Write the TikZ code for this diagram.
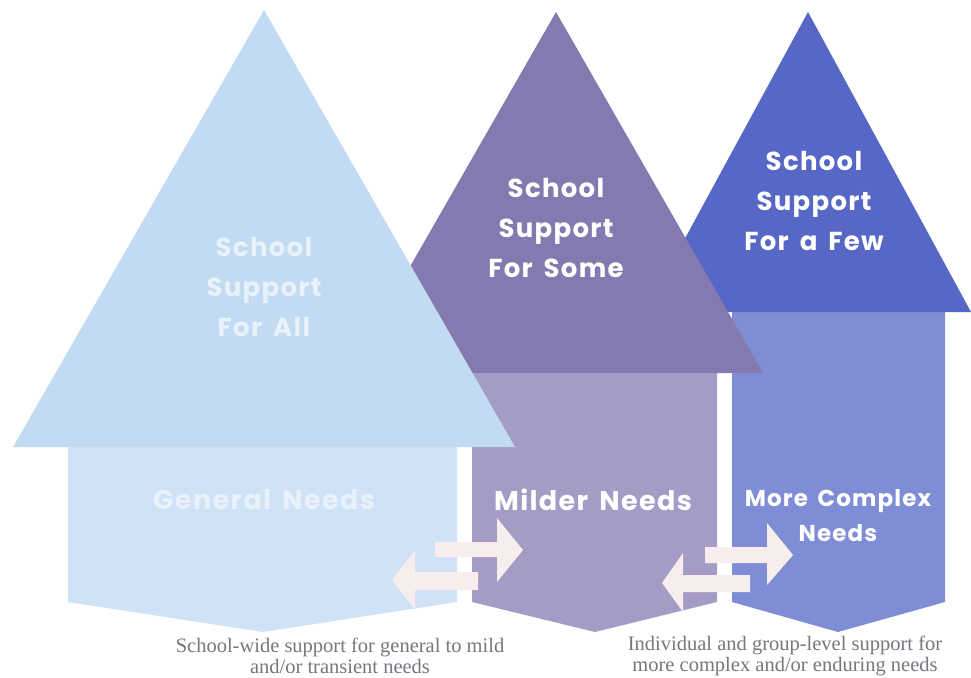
\documentclass[tikz,border=0pt]{standalone}
\usepackage{fontspec}
\setmainfont{Liberation Serif}
\newfontfamily\headfont[LetterSpace=5,WordSpace=1.6]{Poppins}
\usepackage{xcolor}

\definecolor{allTri}{HTML}{C2DBF3}
\definecolor{allBody}{HTML}{CFE2F6}
\definecolor{someTri}{HTML}{857AAF}
\definecolor{someBody}{HTML}{A59CC6}
\definecolor{fewTri}{HTML}{5767C6}
\definecolor{fewBody}{HTML}{7F8DD6}
\definecolor{swapTint}{HTML}{F6EDEC}
\definecolor{paleText}{HTML}{E9F1FB}
\definecolor{capGray}{HTML}{76767E}

\tikzset{
  tierTitle/.style={align=center,text=white,
    font=\headfont\bfseries\fontsize{26}{40}\selectfont},
  needTitle/.style={align=center,text=white,
    font=\headfont\bfseries\fontsize{27}{35}\selectfont},
  caption/.style={align=center,text=capGray,
    font=\fontsize{20.5}{21}\selectfont}
}

\begin{document}
\begin{tikzpicture}[x=1pt,y=-1pt]

  \useasboundingbox (0,0) rectangle (971,677);

  % 三段目：a few
  \fill[fewBody] (732,312) -- (945,312) -- (945,602)
    -- (838,632) -- (732,602) -- cycle;
  \fill[fewTri] (808,12) -- (971,312) -- (645,312) -- cycle;

  % 二段目：some
  \fill[someBody] (472,373) -- (717,373) -- (717,602)
    -- (595,632) -- (472,602) -- cycle;
  \fill[someTri] (556,12) -- (763,373) -- (349,373) -- cycle;

  % 一段目：all
  \fill[allBody] (68,447) -- (457,447) -- (457,602)
    -- (263,632) -- (68,602) -- cycle;
  \fill[allTri] (264,10) -- (515,447) -- (13,447) -- cycle;

  % 往復の矢印（all と some の間）
  \fill[swapTint] (435,542) -- (497,542) -- (497,518) -- (523,550)
    -- (497,582) -- (497,557) -- (435,557) -- cycle;
  \fill[swapTint] (478,572) -- (415,572) -- (415,550) -- (392,580)
    -- (415,610) -- (415,590) -- (478,590) -- cycle;

  % 往復の矢印（some と few の間）
  \fill[swapTint] (705,547) -- (767,547) -- (767,523) -- (793,555)
    -- (767,585) -- (767,563) -- (705,563) -- cycle;
  \fill[swapTint] (750,575) -- (683,575) -- (683,553) -- (662,583)
    -- (683,612) -- (683,592) -- (750,592) -- cycle;

  % 三角形の見出し
  \node[tierTitle,text=paleText] (tall) at (264,287)
    {School\\Support\\For All};
  \node[tierTitle] (tsome) at (556,228)
    {School\\Support\\For Some};
  \node[tierTitle] (tfew) at (814,201)
    {School\\Support\\For a Few};

  % 本体の見出し
  \node[needTitle,text=paleText] (ngen) at (264,500)
    {General Needs};
  \node[needTitle] (nmild) at (593,500)
    {Milder Needs};
  \node[needTitle,font=\headfont\bfseries\fontsize{23}{35}\selectfont]
    (ncomp) at (838,516) {More Complex\\Needs};

  % 下の説明
  \node[caption] (capall) at (340,656)
    {School-wide support for general to mild\\and/or transient needs};
  \node[caption] (capfew) at (785,656)
    {Individual and group-level support for\\more complex and/or enduring needs};

\end{tikzpicture}
\end{document}
